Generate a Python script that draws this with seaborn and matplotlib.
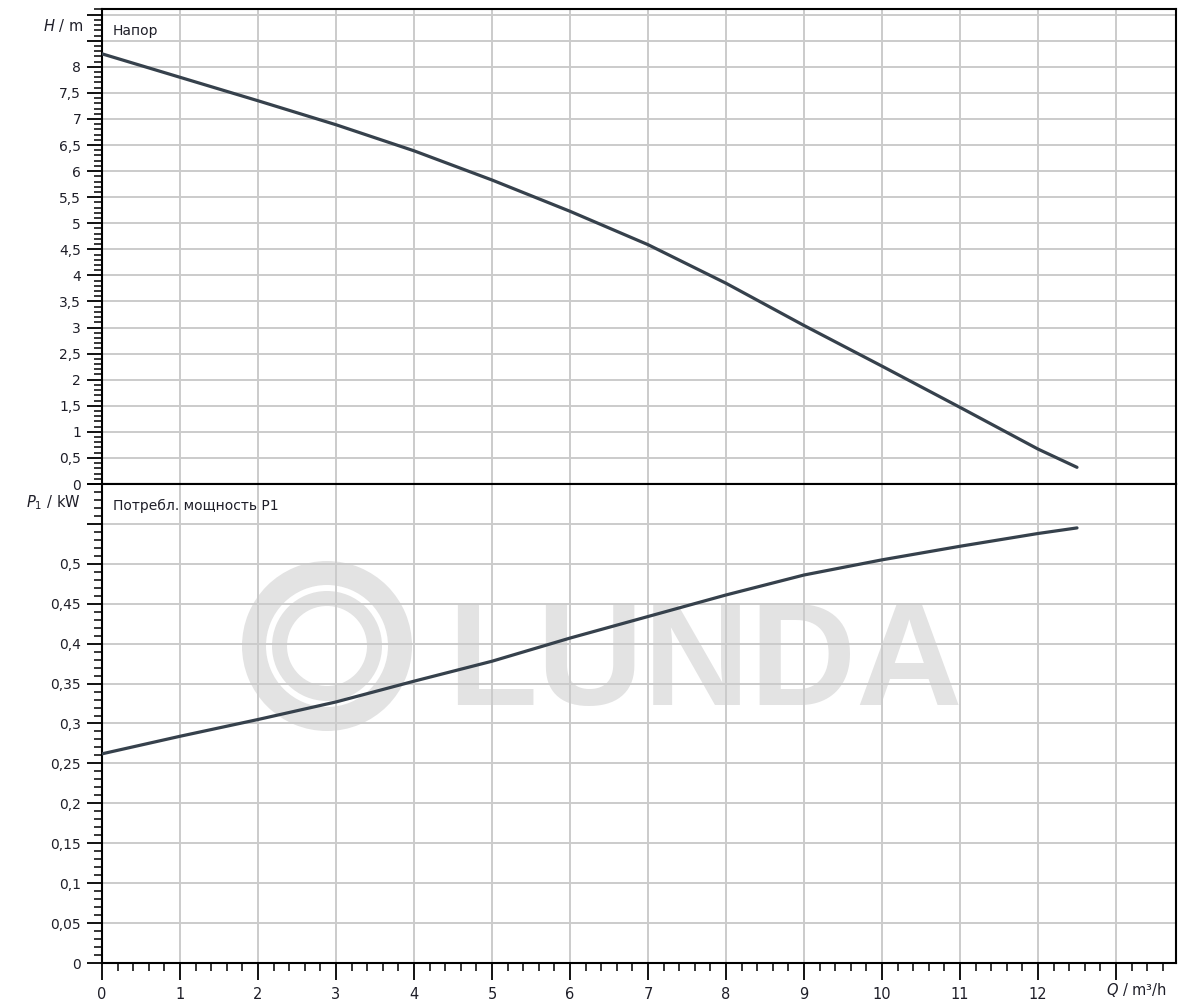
import matplotlib
matplotlib.use("Agg")
import numpy as np
import pandas as pd
import seaborn as sns
import matplotlib.pyplot as plt
from matplotlib.ticker import MultipleLocator, FuncFormatter
from matplotlib.patches import Wedge
import matplotlib.transforms as mtransforms

# ---- data ----
flow = [0, 1, 2, 3, 4, 5, 6, 7, 8, 9, 10, 11, 12, 12.5]
head = [8.25, 7.80, 7.35, 6.89, 6.39, 5.83, 5.23, 4.59, 3.85, 3.04, 2.26, 1.47, 0.67, 0.32]
power = [0.262, 0.284, 0.305, 0.327, 0.353, 0.378, 0.407, 0.434, 0.461, 0.486, 0.505, 0.522, 0.538, 0.545]

head_title = "Напор"
power_title = "Потребл. мощность P1"
head_unit = r"$H$ / m"
power_unit = r"$P_1$ / kW"
flow_unit = r"$Q$ / m³/h"
watermark = "LUNDA"

df = pd.DataFrame({"Q": flow, "H": head, "P": power})

sns.set_style("white")
plt.rcParams["font.family"] = ["DejaVu Sans"]

W, H = 1185, 1005
fig = plt.figure(figsize=(W / 100, H / 100), dpi=100)
x0, x1 = 102, 1176
yt, ym, yb = 9.5, 484, 963
ax1 = fig.add_axes([x0 / W, 1 - ym / H, (x1 - x0) / W, (ym - yt) / H])
ax2 = fig.add_axes([x0 / W, 1 - yb / H, (x1 - x0) / W, (yb - ym) / H])

line_color = "#36414c"
grid_color = "#cbcbcb"
text_color = "#1e1e28"
xmax = (x1 - x0) / 78.0

sns.lineplot(data=df, x="Q", y="H", ax=ax1, color=line_color, linewidth=2.3, zorder=3)
sns.lineplot(data=df, x="Q", y="P", ax=ax2, color=line_color, linewidth=2.3, zorder=3)

def comma(v):
    s = ("%.2f" % v).rstrip("0").rstrip(".")
    return s.replace(".", ",")

for ax in (ax1, ax2):
    ax.set_xlim(0, xmax)
    ax.set_axisbelow(True)
    ax.xaxis.set_major_locator(MultipleLocator(1))
    ax.xaxis.set_minor_locator(MultipleLocator(0.2))
    ax.grid(True, which="major", color=grid_color, linewidth=1.4)
    ax.grid(False, which="minor")
    for sp in ax.spines.values():
        sp.set_visible(True)
        sp.set_color("black")
        sp.set_linewidth(1.5)
    ax.set_xlabel("")
    ax.set_ylabel("")
    ax.tick_params(axis="y", which="major", direction="out", length=11, width=1.3,
                   color="black", pad=4, labelsize=10, labelcolor=text_color, left=True)
    ax.tick_params(axis="y", which="minor", direction="out", length=6, width=1.1,
                   color="black", left=True)

# top panel
ax1.set_ylim(0, 9.1)
ax1.yaxis.set_major_locator(MultipleLocator(0.5))
ax1.yaxis.set_minor_locator(MultipleLocator(0.1))
ax1.yaxis.set_major_formatter(FuncFormatter(lambda v, p: comma(v) if v <= 8.01 else ""))
ax1.tick_params(axis="x", which="both", length=0, labelbottom=False)

# bottom panel
ax2.set_ylim(0, 0.6)
ax2.yaxis.set_major_locator(MultipleLocator(0.05))
ax2.yaxis.set_minor_locator(MultipleLocator(0.01))
ax2.yaxis.set_major_formatter(FuncFormatter(lambda v, p: comma(v) if v <= 0.501 else ""))
ax2.xaxis.set_major_formatter(FuncFormatter(lambda v, p: "%d" % round(v) if v <= 12.01 else ""))
ax2.tick_params(axis="x", which="major", direction="out", length=12, width=1.3,
                color="black", pad=5, labelsize=10.5, labelcolor=text_color, bottom=True)
ax2.tick_params(axis="x", which="minor", direction="out", length=6, width=1.1,
                color="black", bottom=True)

# titles & units
px = mtransforms.IdentityTransform()
def fig_text(xp, yp, s, **kw):
    fig.text(xp / W, 1 - yp / H, s, color=text_color, **kw)

fig_text(113, 31, head_title, ha="left", va="center", fontsize=10)
fig_text(113, 506, power_title, ha="left", va="center", fontsize=10)
fig_text(83, 26, head_unit, ha="right", va="center", fontsize=10.5)
fig_text(80, 503, power_unit, ha="right", va="center", fontsize=10.5)
fig_text(1106, 990, flow_unit, ha="left", va="center", fontsize=10.5)

# watermark
wm_color = "#e3e3e3"
cx, cy = 3.27, (H - 646) / 100
for r, w in [(0.85, 0.24), (0.55, 0.15)]:
    ax2.add_patch(Wedge((cx, cy), r, 0, 360, width=w, transform=fig.dpi_scale_trans,
                        facecolor=wm_color, edgecolor="none", zorder=0.1))
ax2.text(4.47, (H - 705) / 100, watermark, transform=fig.dpi_scale_trans,
         fontsize=106, fontweight="bold", family="Liberation Sans", color=wm_color,
         ha="left", va="baseline", zorder=0.1)
ax2.set_xlim(0, xmax)
ax2.set_ylim(0, 0.6)

fig.savefig("out.png", dpi=100)
